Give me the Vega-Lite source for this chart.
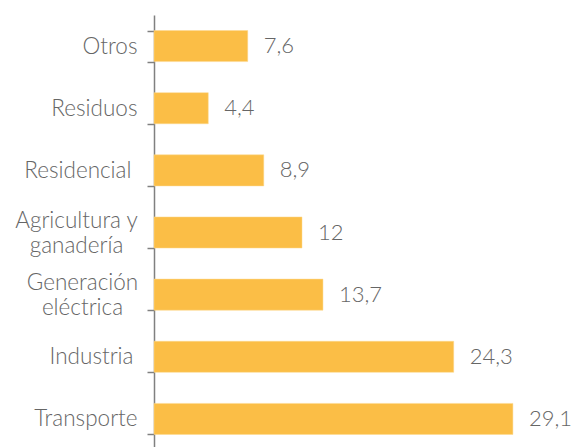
{
  "$schema": "https://vega.github.io/schema/vega-lite/v6.json",
  "autosize": {"type": "none"},
  "width": 370,
  "height": 435,
  "padding": {"left": 154, "top": 15, "right": 51, "bottom": 0},
  "background": "white",
  "data": {
    "values": [
      {"sector": "Otros", "valor": 7.6},
      {"sector": "Residuos", "valor": 4.4},
      {"sector": "Residencial", "valor": 8.9},
      {"sector": "Agricultura y ganadería", "valor": 12},
      {"sector": "Generación eléctrica", "valor": 13.7},
      {"sector": "Industria", "valor": 24.3},
      {"sector": "Transporte", "valor": 29.1}
    ]
  },
  "encoding": {
    "y": {
      "field": "sector",
      "type": "nominal",
      "sort": null,
      "scale": {"paddingInner": 0.5, "paddingOuter": 0.25},
      "axis": {
        "title": null,
        "domain": true,
        "domainColor": "#808080",
        "domainWidth": 1.5,
        "ticks": true,
        "tickBand": "extent",
        "tickSize": 7,
        "tickColor": "#808080",
        "tickWidth": 1.5,
        "labelAlign": {"condition": {"test": "datum.value == 'Agricultura y ganadería' || datum.value == 'Generación eléctrica'", "value": "center"}, "value": "right"},
        "labelPadding": {"condition": [
          {"test": "datum.value == 'Agricultura y ganadería'", "value": 71},
          {"test": "datum.value == 'Generación eléctrica'", "value": 65},
          {"test": "datum.value == 'Residencial'", "value": 16},
          {"test": "datum.value == 'Industria'", "value": 14}
        ], "value": 10},
        "labelOffset": {"condition": {"test": "datum.value == 'Agricultura y ganadería' || datum.value == 'Generación eléctrica'", "value": -12}, "value": 0},
        "labelFont": "Lato",
        "labelFontWeight": 300,
        "labelFontSize": 22.5,
        "labelColor": "#666666",
        "labelLineHeight": 25,
        "labelLimit": 300,
        "labelExpr": "datum.value == 'Agricultura y ganadería' ? ['Agricultura y', 'ganadería'] : datum.value == 'Generación eléctrica' ? ['Generación', 'eléctrica'] : datum.value"
      }
    },
    "x": {
      "field": "valor",
      "type": "quantitative",
      "scale": {"domain": [0, 30], "nice": false},
      "axis": null
    }
  },
  "layer": [
    {"mark": {"type": "bar", "color": "#FBBE46", "stroke": "#FDD98F", "strokeWidth": 0.5}},
    {
      "mark": {"type": "text", "align": "left", "baseline": "middle", "dx": 16, "font": "Lato", "fontWeight": 300, "fontSize": 22, "color": "#666666"},
      "encoding": {"text": {"field": "valor", "type": "quantitative", "format": "~g"}}
    }
  ],
  "config": {
    "view": {"stroke": null},
    "locale": {"number": {"decimal": ",", "thousands": ".", "grouping": [3], "currency": ["", " €"]}}
  }
}
